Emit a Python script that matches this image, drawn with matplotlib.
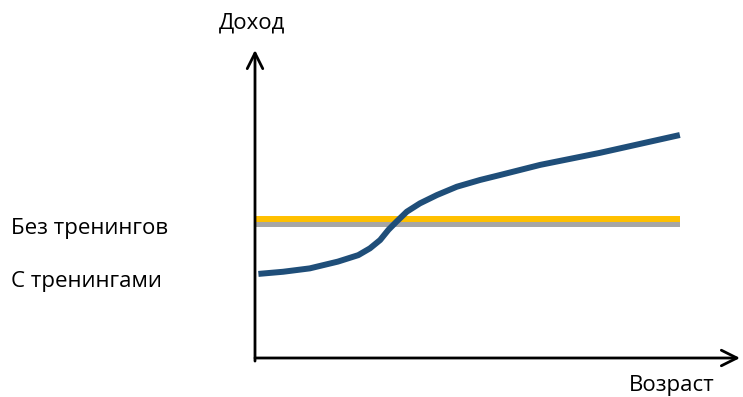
import matplotlib
matplotlib.use("Agg")
import matplotlib.pyplot as plt

plt.rcParams['font.family'] = ['Open Sans', 'DejaVu Sans']

# age (x) and income (y) in arbitrary units
age_trained = [0.07, 0.58, 1.13, 1.71, 2.13, 2.37, 2.58, 2.75, 2.92, 3.13, 3.40,
               3.75, 4.16, 4.64, 5.05, 5.88, 7.11, 8.76]
income_trained = [2.73, 2.80, 2.91, 3.13, 3.34, 3.56, 3.83, 4.16, 4.43, 4.75, 5.02,
                  5.29, 5.56, 5.78, 5.94, 6.27, 6.66, 7.24]

age_flat = [0.0, 8.76]
income_no_training = [4.52, 4.52]
income_baseline = [4.36, 4.36]

fig = plt.figure(figsize=(7.43, 3.97), dpi=100)
ax = fig.add_axes([255 / 743, 39 / 397, 485 / 743, 308 / 397])
ax.set_xlim(0, 10)
ax.set_ylim(0, 10)
ax.axis('off')

ax.plot(age_flat, income_baseline, color='#A6A6A6', lw=4.3, solid_capstyle='butt')
ax.plot(age_flat, income_no_training, color='#FFC000', lw=4.3, solid_capstyle='butt')
ax.plot(age_trained, income_trained, color='#1F4E79', lw=4.3,
        solid_capstyle='butt', solid_joinstyle='round')

# axis arrows
arrow = dict(arrowstyle='->', lw=2, color='black', mutation_scale=28, shrinkA=0, shrinkB=0)
ax.annotate('', xy=(1, 0), xytext=(0, 0), xycoords='axes fraction', arrowprops=arrow)
ax.annotate('', xy=(0, 1), xytext=(0, -0.01), xycoords='axes fraction', arrowprops=arrow)

fs = 16
fig.text(252 / 743, 1 - 23 / 397, 'Доход', ha='center', va='center', fontsize=fs)
fig.text(672 / 743, 1 - 386 / 397, 'Возраст', ha='center', va='center', fontsize=fs)
fig.text(11 / 743, 1 - 229 / 397, 'Без тренингов', ha='left', va='center', fontsize=fs)
fig.text(11 / 743, 1 - 282 / 397, 'С тренингами', ha='left', va='center', fontsize=fs)

fig.savefig('out.png', dpi=100)
